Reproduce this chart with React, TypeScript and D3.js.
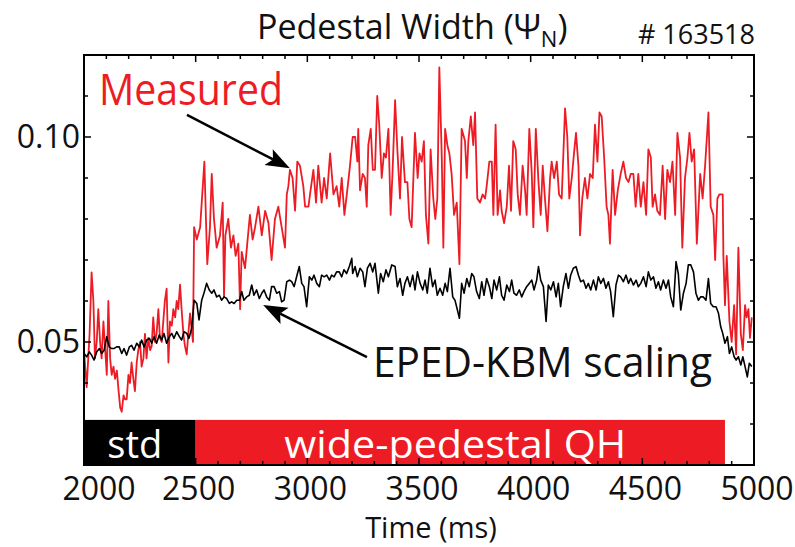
import * as d3 from 'd3';
import { useEffect, useRef } from 'react';

const RED = '#ed1c24';
const FONT = '"Open Sans", "Noto Sans", sans-serif';

// [time (ms), pedestal width (psi_N)]
const measured: [number, number][] = [
  [2000, 0.048], [2012, 0.039], [2025, 0.052], [2034, 0.067], [2042, 0.060], [2049, 0.046], [2057, 0.050], [2064, 0.058],
  [2072, 0.050], [2079, 0.046], [2087, 0.055], [2095, 0.048], [2102, 0.042], [2109, 0.060], [2117, 0.046], [2124, 0.042],
  [2132, 0.044], [2139, 0.041], [2147, 0.043], [2155, 0.038], [2162, 0.034], [2169, 0.033], [2177, 0.037], [2184, 0.036],
  [2191, 0.036], [2199, 0.042], [2206, 0.040], [2213, 0.045], [2221, 0.041], [2228, 0.038], [2236, 0.045], [2243, 0.048],
  [2251, 0.050], [2258, 0.044], [2266, 0.046], [2273, 0.052], [2280, 0.046], [2288, 0.051], [2296, 0.048], [2303, 0.049],
  [2310, 0.056], [2318, 0.050], [2325, 0.052], [2333, 0.058], [2340, 0.051], [2348, 0.050], [2355, 0.055], [2362, 0.060],
  [2370, 0.063], [2378, 0.045], [2385, 0.055], [2393, 0.054], [2400, 0.058], [2408, 0.056], [2415, 0.060], [2422, 0.058],
  [2430, 0.064], [2437, 0.058], [2445, 0.052], [2452, 0.049], [2460, 0.047], [2467, 0.052], [2475, 0.057], [2482, 0.053],
  [2488, 0.050], [2493, 0.078], [2505, 0.075], [2520, 0.078], [2539, 0.094], [2546, 0.080], [2552, 0.069], [2564, 0.078],
  [2572, 0.091], [2582, 0.080], [2594, 0.073], [2609, 0.076], [2621, 0.084], [2627, 0.061], [2633, 0.076], [2646, 0.080],
  [2658, 0.073], [2669, 0.076], [2679, 0.071], [2691, 0.074], [2699, 0.058], [2706, 0.072], [2721, 0.068], [2736, 0.077],
  [2743, 0.081], [2755, 0.075], [2766, 0.078], [2781, 0.083], [2796, 0.076], [2811, 0.082], [2826, 0.079], [2840, 0.070],
  [2855, 0.080], [2870, 0.083], [2885, 0.078], [2900, 0.073], [2908, 0.086], [2915, 0.088], [2922, 0.092], [2934, 0.090],
  [2945, 0.082], [2955, 0.094], [2967, 0.093], [2982, 0.088], [2990, 0.083], [3005, 0.083], [3012, 0.086], [3027, 0.092],
  [3039, 0.084], [3049, 0.093], [3064, 0.084], [3075, 0.090], [3087, 0.085], [3102, 0.096], [3117, 0.086], [3131, 0.088],
  [3143, 0.083], [3154, 0.090], [3166, 0.081], [3181, 0.088], [3191, 0.093], [3203, 0.100], [3214, 0.100], [3224, 0.094],
  [3228, 0.102], [3236, 0.087], [3248, 0.091], [3258, 0.090], [3266, 0.083], [3273, 0.098], [3284, 0.102], [3293, 0.092],
  [3303, 0.092], [3313, 0.110], [3322, 0.103], [3333, 0.090], [3343, 0.096], [3352, 0.095], [3363, 0.102], [3373, 0.081],
  [3382, 0.092], [3393, 0.109], [3403, 0.097], [3415, 0.085], [3424, 0.100], [3437, 0.089], [3448, 0.089], [3457, 0.080],
  [3467, 0.078], [3482, 0.101], [3494, 0.090], [3502, 0.096], [3512, 0.094], [3522, 0.099], [3531, 0.081], [3542, 0.074],
  [3552, 0.097], [3564, 0.085], [3573, 0.080], [3582, 0.085], [3591, 0.117], [3602, 0.095], [3609, 0.073], [3617, 0.102],
  [3627, 0.098], [3636, 0.096], [3646, 0.091], [3657, 0.081], [3669, 0.084], [3681, 0.069], [3691, 0.102], [3706, 0.099],
  [3714, 0.090], [3721, 0.099], [3732, 0.105], [3743, 0.098], [3751, 0.106], [3761, 0.085], [3773, 0.084], [3785, 0.086],
  [3796, 0.085], [3803, 0.088], [3815, 0.094], [3826, 0.094], [3833, 0.081], [3843, 0.103], [3852, 0.081], [3863, 0.087],
  [3870, 0.082], [3881, 0.079], [3893, 0.083], [3903, 0.093], [3912, 0.082], [3922, 0.099], [3933, 0.097], [3942, 0.086],
  [3952, 0.081], [3964, 0.093], [3975, 0.087], [3982, 0.081], [3994, 0.102], [4005, 0.091], [4012, 0.078], [4023, 0.102],
  [4035, 0.089], [4045, 0.081], [4054, 0.093], [4064, 0.085], [4075, 0.077], [4087, 0.090], [4094, 0.094], [4105, 0.090],
  [4117, 0.094], [4127, 0.086], [4139, 0.085], [4154, 0.107], [4164, 0.100], [4173, 0.085], [4184, 0.090], [4194, 0.096],
  [4203, 0.101], [4214, 0.093], [4221, 0.076], [4231, 0.085], [4243, 0.090], [4254, 0.085], [4266, 0.091], [4278, 0.090],
  [4288, 0.103], [4299, 0.094], [4308, 0.106], [4318, 0.105], [4329, 0.095], [4340, 0.083], [4348, 0.081], [4355, 0.074],
  [4367, 0.092], [4378, 0.081], [4390, 0.087], [4403, 0.091], [4415, 0.094], [4427, 0.090], [4438, 0.089], [4448, 0.091],
  [4460, 0.091], [4470, 0.083], [4482, 0.091], [4493, 0.083], [4505, 0.089], [4517, 0.081], [4527, 0.097], [4538, 0.095],
  [4546, 0.083], [4557, 0.086], [4567, 0.082], [4579, 0.081], [4591, 0.093], [4602, 0.080], [4612, 0.092], [4624, 0.089],
  [4635, 0.094], [4647, 0.081], [4657, 0.101], [4669, 0.095], [4679, 0.073], [4691, 0.090], [4702, 0.095], [4711, 0.101],
  [4721, 0.094], [4732, 0.097], [4744, 0.074], [4759, 0.091], [4770, 0.085], [4781, 0.093], [4796, 0.106], [4806, 0.083],
  [4818, 0.081], [4826, 0.070], [4836, 0.085], [4845, 0.086], [4860, 0.086], [4863, 0.071], [4870, 0.059], [4878, 0.071],
  [4890, 0.055], [4900, 0.050], [4911, 0.059], [4920, 0.047], [4930, 0.073], [4941, 0.052], [4950, 0.048], [4960, 0.059],
  [4967, 0.056], [4975, 0.058], [4982, 0.051], [4990, 0.056],
];

const epedKbm: [number, number][] = [
  [2000, 0.0472], [2012, 0.0464], [2024, 0.0476], [2034, 0.0468], [2045, 0.0456], [2057, 0.0476], [2069, 0.0484], [2079, 0.0472],
  [2090, 0.0480], [2102, 0.0513], [2113, 0.0488], [2124, 0.0484], [2134, 0.0484], [2146, 0.0488], [2158, 0.0488], [2169, 0.0472],
  [2179, 0.0484], [2191, 0.0468], [2203, 0.0488], [2213, 0.0492], [2224, 0.0480], [2236, 0.0497], [2248, 0.0488], [2258, 0.0505],
  [2269, 0.0488], [2281, 0.0505], [2293, 0.0509], [2303, 0.0497], [2314, 0.0513], [2325, 0.0497], [2337, 0.0517], [2348, 0.0505],
  [2358, 0.0521], [2370, 0.0497], [2382, 0.0513], [2393, 0.0521], [2403, 0.0509], [2415, 0.0525], [2427, 0.0513], [2437, 0.0505],
  [2448, 0.0525], [2460, 0.0521], [2470, 0.0509], [2482, 0.0533], [2493, 0.0602], [2505, 0.0594], [2515, 0.0554], [2527, 0.0602],
  [2537, 0.0619], [2549, 0.0643], [2561, 0.0627], [2572, 0.0619], [2582, 0.0627], [2594, 0.0610], [2606, 0.0614], [2616, 0.0602],
  [2627, 0.0610], [2639, 0.0606], [2651, 0.0594], [2661, 0.0598], [2672, 0.0594], [2684, 0.0602], [2696, 0.0602], [2706, 0.0623],
  [2716, 0.0602], [2728, 0.0610], [2740, 0.0614], [2751, 0.0639], [2761, 0.0614], [2773, 0.0627], [2785, 0.0606], [2796, 0.0619],
  [2806, 0.0627], [2818, 0.0610], [2830, 0.0602], [2840, 0.0635], [2851, 0.0635], [2863, 0.0619], [2875, 0.0623], [2885, 0.0598],
  [2896, 0.0602], [2908, 0.0647], [2920, 0.0651], [2930, 0.0647], [2941, 0.0635], [2952, 0.0659], [2964, 0.0684], [2975, 0.0643],
  [2985, 0.0635], [2997, 0.0586], [3009, 0.0659], [3020, 0.0651], [3030, 0.0663], [3042, 0.0643], [3054, 0.0635], [3064, 0.0663],
  [3075, 0.0659], [3087, 0.0663], [3099, 0.0651], [3109, 0.0663], [3120, 0.0659], [3131, 0.0671], [3143, 0.0671], [3154, 0.0659],
  [3164, 0.0676], [3176, 0.0667], [3188, 0.0684], [3199, 0.0704], [3203, 0.0667], [3214, 0.0684], [3224, 0.0659], [3236, 0.0680],
  [3248, 0.0671], [3258, 0.0635], [3269, 0.0680], [3281, 0.0692], [3293, 0.0671], [3303, 0.0692], [3318, 0.0619], [3328, 0.0667],
  [3340, 0.0647], [3352, 0.0676], [3363, 0.0659], [3378, 0.0688], [3393, 0.0684], [3403, 0.0635], [3415, 0.0655], [3427, 0.0614],
  [3437, 0.0643], [3448, 0.0659], [3460, 0.0635], [3472, 0.0663], [3482, 0.0627], [3493, 0.0671], [3505, 0.0643], [3517, 0.0627],
  [3527, 0.0651], [3537, 0.0619], [3549, 0.0680], [3561, 0.0635], [3572, 0.0651], [3582, 0.0614], [3594, 0.0631], [3606, 0.0614],
  [3617, 0.0643], [3627, 0.0623], [3639, 0.0680], [3651, 0.0610], [3661, 0.0602], [3672, 0.0578], [3681, 0.0558], [3691, 0.0643],
  [3702, 0.0619], [3714, 0.0655], [3725, 0.0635], [3736, 0.0667], [3746, 0.0659], [3758, 0.0623], [3770, 0.0606], [3781, 0.0647],
  [3791, 0.0614], [3803, 0.0655], [3815, 0.0635], [3826, 0.0606], [3836, 0.0651], [3848, 0.0627], [3860, 0.0659], [3870, 0.0614],
  [3881, 0.0602], [3893, 0.0639], [3905, 0.0623], [3915, 0.0651], [3925, 0.0619], [3937, 0.0614], [3949, 0.0627], [3960, 0.0610],
  [3970, 0.0623], [3982, 0.0635], [3994, 0.0643], [4005, 0.0651], [4015, 0.0627], [4027, 0.0651], [4035, 0.0684], [4045, 0.0651],
  [4057, 0.0635], [4069, 0.0550], [4079, 0.0639], [4090, 0.0627], [4102, 0.0647], [4114, 0.0610], [4124, 0.0643], [4134, 0.0586],
  [4146, 0.0635], [4158, 0.0667], [4169, 0.0631], [4179, 0.0663], [4191, 0.0680], [4203, 0.0684], [4214, 0.0663], [4224, 0.0647],
  [4236, 0.0651], [4248, 0.0631], [4258, 0.0643], [4269, 0.0627], [4281, 0.0651], [4293, 0.0627], [4303, 0.0659], [4314, 0.0643],
  [4326, 0.0655], [4337, 0.0631], [4348, 0.0647], [4358, 0.0623], [4370, 0.0562], [4382, 0.0639], [4393, 0.0663], [4403, 0.0659],
  [4415, 0.0647], [4427, 0.0663], [4438, 0.0643], [4448, 0.0655], [4460, 0.0639], [4472, 0.0651], [4482, 0.0635], [4493, 0.0643],
  [4505, 0.0659], [4517, 0.0635], [4527, 0.0671], [4538, 0.0651], [4550, 0.0659], [4561, 0.0631], [4572, 0.0647], [4582, 0.0627],
  [4594, 0.0651], [4606, 0.0631], [4617, 0.0651], [4627, 0.0610], [4639, 0.0586], [4651, 0.0696], [4661, 0.0667], [4672, 0.0578],
  [4684, 0.0619], [4696, 0.0643], [4706, 0.0688], [4717, 0.0688], [4729, 0.0671], [4740, 0.0619], [4751, 0.0602], [4761, 0.0610],
  [4773, 0.0610], [4785, 0.0602], [4796, 0.0655], [4806, 0.0594], [4818, 0.0586], [4830, 0.0586], [4841, 0.0570], [4851, 0.0537],
  [4860, 0.0521], [4870, 0.0497], [4881, 0.0513], [4890, 0.0472], [4900, 0.0488], [4911, 0.0464], [4920, 0.0456], [4930, 0.0464],
  [4941, 0.0444], [4950, 0.0464], [4960, 0.0440], [4970, 0.0415], [4979, 0.0448], [4990, 0.0440],
];

const xLabels = [2000, 2500, 3000, 3500, 4000, 4500, 5000];
const yLabels = [0.05, 0.1];

const phases = [
  { label: 'std', start: 2000, end: 2500, color: '#000000' },
  { label: 'wide-pedestal QH', start: 2500, end: 4870, color: RED },
];

function PedestalWidthChart() {
  const svgRef = useRef<SVGSVGElement>(null);

  useEffect(() => {
    if (!svgRef.current) return;
    const svg = d3.select(svgRef.current);
    svg.selectAll('*').remove();

    const width = 795;
    const height = 547;
    const margin = { top: 55, right: 41, bottom: 82, left: 84 };

    const x = d3.scaleLinear().domain([2000, 5000]).range([margin.left, width - margin.right]);
    const y = d3.scaleLinear().domain([0.02, 0.12]).range([height - margin.bottom, margin.top]);

    const line = d3.line<[number, number]>()
      .x(d => x(d[0]))
      .y(d => y(d[1]));

    svg.append('path')
      .datum(measured)
      .attr('d', line)
      .attr('fill', 'none')
      .attr('stroke', RED)
      .attr('stroke-width', 1.8)
      .attr('stroke-linejoin', 'round');

    svg.append('path')
      .datum(epedKbm)
      .attr('d', line)
      .attr('fill', 'none')
      .attr('stroke', '#000')
      .attr('stroke-width', 1.6)
      .attr('stroke-linejoin', 'round');

    // phase bars along the bottom
    const barTop = y(0.031);
    const barBottom = y(0.02);
    const bars = svg.append('g');
    bars.selectAll('rect')
      .data(phases)
      .enter().append('rect')
      .attr('x', d => x(d.start))
      .attr('y', barTop)
      .attr('width', d => x(d.end) - x(d.start))
      .attr('height', barBottom - barTop)
      .attr('fill', d => d.color);
    bars.selectAll('text')
      .data(phases)
      .enter().append('text')
      .attr('x', d => (x(d.start) + x(d.end)) / 2 - 5)
      .attr('y', barBottom - 7)
      .attr('text-anchor', 'middle')
      .attr('fill', '#fff')
      .attr('font-family', FONT)
      .attr('font-size', 38)
      .attr('textLength', (d, i) => (i === 0 ? 55 : 342))
      .attr('lengthAdjust', 'spacingAndGlyphs')
      .text(d => d.label);

    // frame
    svg.append('rect')
      .attr('x', x(2000))
      .attr('y', y(0.12))
      .attr('width', x(5000) - x(2000))
      .attr('height', y(0.02) - y(0.12))
      .attr('fill', 'none')
      .attr('stroke', '#000')
      .attr('stroke-width', 2);

    // inward ticks on all four sides
    const ticks = svg.append('g').attr('stroke', '#000').attr('stroke-width', 1.5);
    const xt = d3.range(2100, 5000, 100);
    const isMajorX = (t: number) => t % 500 === 0;
    xt.forEach(t => {
      const len = isMajorX(t) ? 7 : 4;
      ticks.append('line').attr('x1', x(t)).attr('x2', x(t)).attr('y1', y(0.12)).attr('y2', y(0.12) + len);
      ticks.append('line').attr('x1', x(t)).attr('x2', x(t)).attr('y1', y(0.02)).attr('y2', y(0.02) - len);
    });
    const yt = d3.range(3, 12).map(i => i / 100);
    yt.forEach(v => {
      const len = yLabels.some(l => Math.abs(l - v) < 1e-9) ? 7 : 4;
      ticks.append('line').attr('x1', x(2000)).attr('x2', x(2000) + len).attr('y1', y(v)).attr('y2', y(v));
      ticks.append('line').attr('x1', x(5000)).attr('x2', x(5000) - len).attr('y1', y(v)).attr('y2', y(v));
    });

    // tick labels
    svg.append('g')
      .selectAll('text')
      .data(xLabels)
      .enter().append('text')
      .attr('x', (d, i) => x(d) + (i === 0 ? 15 : 3))
      .attr('y', 500)
      .attr('text-anchor', 'middle')
      .attr('font-family', FONT)
      .attr('font-size', 32)
      .attr('fill', '#111')
      .text(d => String(d));

    svg.append('g')
      .selectAll('text')
      .data(yLabels)
      .enter().append('text')
      .attr('x', x(2000) - 4)
      .attr('y', d => y(d) + 11)
      .attr('text-anchor', 'end')
      .attr('font-family', FONT)
      .attr('font-size', 32)
      .attr('fill', '#111')
      .text(d => d.toFixed(2));

    svg.append('text')
      .attr('x', (x(2000) + x(5000)) / 2 + 12)
      .attr('y', 538)
      .attr('text-anchor', 'middle')
      .attr('font-family', FONT)
      .attr('font-size', 29)
      .attr('fill', '#111')
      .text('Time (ms)');

    // title
    const title = svg.append('text')
      .attr('x', 257)
      .attr('y', 39)
      .attr('font-family', FONT)
      .attr('font-size', 34)
      .attr('fill', '#111');
    title.append('tspan').text('Pedestal Width (\u03a8');
    title.append('tspan').attr('font-size', 22).attr('dy', 8).text('N');
    title.append('tspan').attr('dy', -8).text(')');

    svg.append('text')
      .attr('x', 755)
      .attr('y', 44)
      .attr('text-anchor', 'end')
      .attr('font-family', FONT)
      .attr('font-size', 27)
      .attr('fill', '#111')
      .text('# 163518');

    // annotations
    svg.append('text')
      .attr('x', x(2067))
      .attr('y', y(0.1078))
      .attr('font-family', FONT)
      .attr('font-size', 44)
      .attr('fill', RED)
      .attr('textLength', 184)
      .attr('lengthAdjust', 'spacingAndGlyphs')
      .text('Measured');

    svg.append('text')
      .attr('x', x(3294))
      .attr('y', y(0.0415))
      .attr('font-family', FONT)
      .attr('font-size', 42)
      .attr('fill', '#111')
      .attr('textLength', 339)
      .attr('lengthAdjust', 'spacingAndGlyphs')
      .text('EPED-KBM scaling');

    const arrow = (t1: number, v1: number, t2: number, v2: number) => {
      const x1 = x(t1), y1 = y(v1), x2 = x(t2), y2 = y(v2);
      const ang = Math.atan2(y2 - y1, x2 - x1);
      const headLen = 24, half = 9, notch = 5;
      const ux = Math.cos(ang), uy = Math.sin(ang);
      const bx = x2 - ux * headLen, by = y2 - uy * headLen;
      const nx = x2 - ux * (headLen - notch), ny = y2 - uy * (headLen - notch);
      svg.append('line')
        .attr('x1', x1).attr('y1', y1)
        .attr('x2', nx).attr('y2', ny)
        .attr('stroke', '#000')
        .attr('stroke-width', 2.5);
      svg.append('path')
        .attr('d', `M${x2},${y2} L${bx - uy * half},${by + ux * half} L${nx},${ny} L${bx + uy * half},${by - ux * half} Z`)
        .attr('fill', '#000');
    };
    arrow(2461, 0.1054, 2922, 0.0924);
    arrow(3267, 0.0463, 2802, 0.0590);
  }, []);

  return (
    <svg
      ref={svgRef}
      width={795}
      height={547}
      style={{ position: 'absolute', left: 0, top: 0, background: '#fff' }}
    />
  );
}

export default function App() {
  return <PedestalWidthChart />;
}
